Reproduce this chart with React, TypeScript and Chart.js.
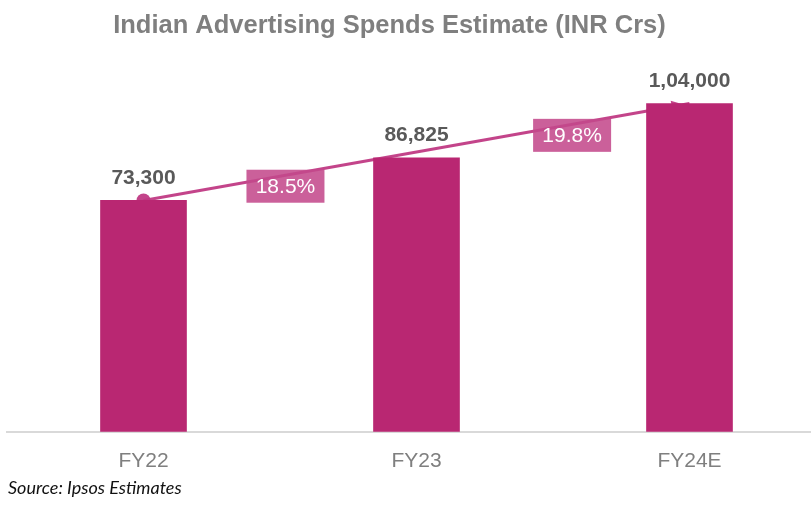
import React, { useEffect, useRef } from "react";
import { Chart, registerables } from "chart.js";

Chart.register(...registerables);

const categories = ["FY22", "FY23", "FY24E"];
const spendValues = [73300, 86825, 104000];
const trendValues = [73300, null, 104000];
const growthLabels = ["18.5%", "19.8%"];
const growthPositions = [0.26, 0.785];
const titleText = "Indian Advertising Spends Estimate (INR Crs)";
const sourceText = "Source: Ipsos Estimates";

const BAR_COLOR = "#B92772";
const LINE_COLOR = "rgba(192, 58, 132, 0.95)";
const BOX_COLOR = "rgba(196, 74, 140, 0.88)";
const FONT = "'Liberation Sans', Arial, sans-serif";

function formatIndian(n: number): string {
  const s = Math.round(n).toString();
  if (s.length <= 3) return s;
  const last3 = s.slice(-3);
  let rest = s.slice(0, -3);
  const parts: string[] = [];
  while (rest.length > 2) {
    parts.unshift(rest.slice(-2));
    rest = rest.slice(0, -2);
  }
  if (rest.length) parts.unshift(rest);
  return parts.join(",") + "," + last3;
}

const overlayPlugin = {
  id: "overlay",
  afterDatasetsDraw(chart: any) {
    const ctx = chart.ctx;
    const barMeta = chart.getDatasetMeta(0);
    const lineMeta = chart.getDatasetMeta(1);
    ctx.save();
    ctx.font = `bold 21px ${FONT}`;
    ctx.fillStyle = "#595959";
    ctx.textAlign = "center";
    ctx.textBaseline = "alphabetic";
    barMeta.data.forEach((bar: any, i: number) => {
      ctx.fillText(formatIndian(spendValues[i]), bar.x, bar.y - 16.5);
    });
    ctx.restore();

    const p0 = lineMeta.data[0];
    const p1 = lineMeta.data[2];
    growthLabels.forEach((label, i) => {
      const t = growthPositions[i];
      const cx = p0.x + (p1.x - p0.x) * t;
      const cy = p0.y + (p1.y - p0.y) * t + 11;
      const w = 78;
      const h = 33;
      ctx.save();
      ctx.fillStyle = BOX_COLOR;
      ctx.fillRect(cx - w / 2, cy - h / 2, w, h);
      ctx.font = `21px ${FONT}`;
      ctx.fillStyle = "#ffffff";
      ctx.textAlign = "center";
      ctx.textBaseline = "middle";
      ctx.fillText(label, cx, cy + 1);
      ctx.restore();
    });
  },
  afterDraw(chart: any) {
    const ctx = chart.ctx;
    ctx.save();
    ctx.font = `bold 25.5px ${FONT}`;
    ctx.fillStyle = "#7F7F7F";
    ctx.textAlign = "center";
    ctx.textBaseline = "alphabetic";
    ctx.fillText(titleText, 389.5, 32.5);
    ctx.font = `italic 18px Lato, 'Open Sans', sans-serif`;
    ctx.fillStyle = "#111111";
    ctx.textAlign = "left";
    ctx.textBaseline = "middle";
    ctx.fillText(sourceText, 8, 488);
    ctx.restore();
  },
};

const arrowPlugin = {
  id: "arrowHead",
  afterDatasetDraw(chart: any, args: any) {
    if (args.index !== 1) return;
    const meta = chart.getDatasetMeta(1);
    const a = meta.data[0];
    const b = meta.data[2];
    const dx = b.x - a.x;
    const dy = b.y - a.y;
    const len = Math.sqrt(dx * dx + dy * dy);
    const ux = dx / len;
    const uy = dy / len;
    const tipX = b.x - ux * 6;
    const tipY = b.y - uy * 6;
    const baseX = tipX - ux * 12;
    const baseY = tipY - uy * 12;
    const nx = -uy;
    const ny = ux;
    const ctx = chart.ctx;
    ctx.save();
    ctx.fillStyle = LINE_COLOR;
    ctx.beginPath();
    ctx.moveTo(tipX, tipY);
    ctx.lineTo(baseX + nx * 6, baseY + ny * 6);
    ctx.lineTo(baseX - nx * 6, baseY - ny * 6);
    ctx.closePath();
    ctx.fill();
    ctx.restore();
  },
};

export default function App() {
  const canvasRef = useRef<HTMLCanvasElement | null>(null);

  useEffect(() => {
    if (!canvasRef.current) return;
    const chart = new Chart(canvasRef.current, {
      type: "bar",
      data: {
        labels: categories,
        datasets: [
          {
            type: "bar",
            label: "Spends",
            data: spendValues,
            backgroundColor: BAR_COLOR,
            barThickness: 86,
            order: 1,
          },
          {
            type: "line",
            label: "Trend",
            data: trendValues as any,
            borderColor: LINE_COLOR,
            borderWidth: 3,
            spanGaps: true,
            pointRadius: [7, 0, 0],
            pointBackgroundColor: LINE_COLOR,
            pointBorderWidth: 0,
            order: 2,
          } as any,
        ],
      },
      options: {
        responsive: false,
        animation: false,
        layout: { padding: { left: 6, right: 2, top: 53, bottom: 15 } },
        plugins: {
          legend: { display: false },
          tooltip: { enabled: false },
          title: { display: false },
        },
        scales: {
          x: {
            grid: { display: false, drawTicks: false },
            border: { display: true, color: "#D9D9D9", width: 2 },
            ticks: {
              color: "#7F7F7F",
              font: { family: FONT, size: 21 },
              padding: 17,
            },
          },
          y: {
            display: false,
            min: 0,
            max: 120000,
          },
        },
      },
      plugins: [arrowPlugin, overlayPlugin],
    });
    return () => chart.destroy();
  }, []);

  return (
    <div
      style={{
        position: "fixed",
        left: 0,
        top: 0,
        width: 811,
        height: 506,
        overflow: "hidden",
        background: "#fff",
      }}
    >
      <canvas ref={canvasRef} width={833} height={506} style={{ display: "block" }} />
    </div>
  );
}
